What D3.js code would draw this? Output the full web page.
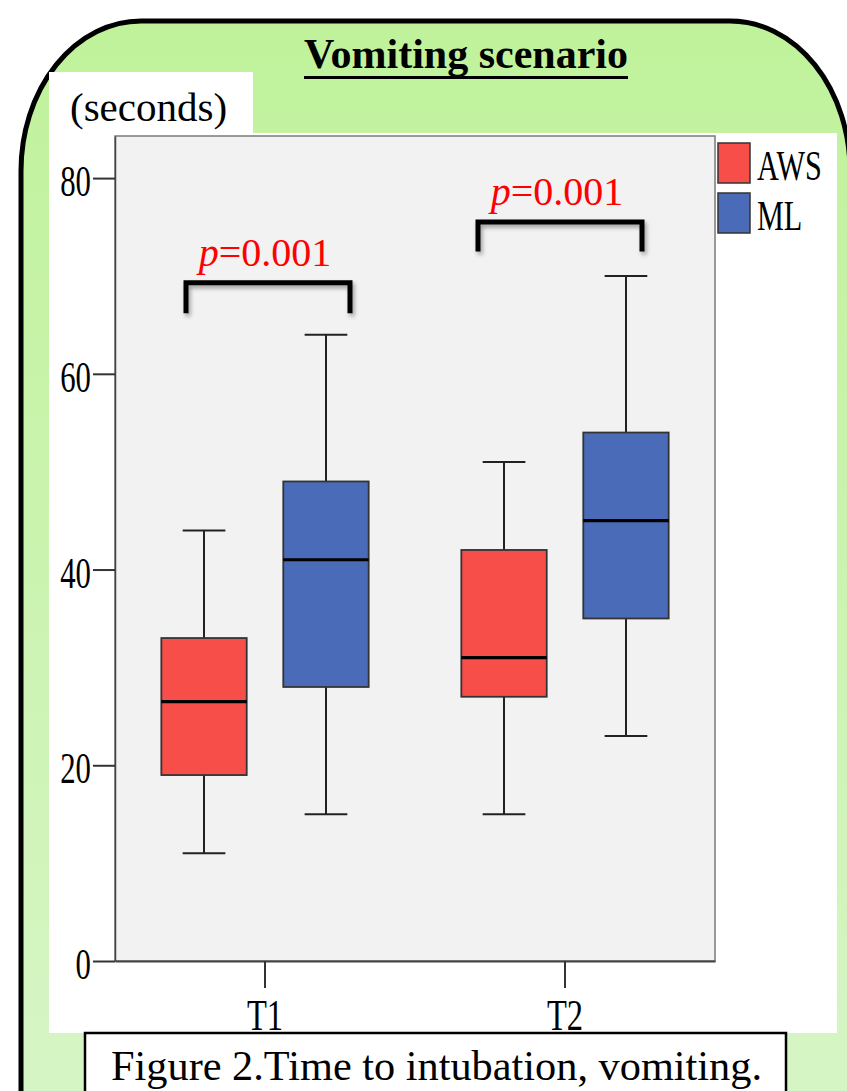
<!DOCTYPE html>
<html>
<head>
<meta charset="utf-8">
<script src="https://cdn.jsdelivr.net/npm/d3@7/dist/d3.min.js"></script>
<style>
  html, body { margin: 0; padding: 0; background: #ffffff; }
  svg { display: block; }
  text { font-family: "Liberation Serif", "Times New Roman", Times, Tinos, "DejaVu Serif", serif; }
</style>
</head>
<body>
<svg id="chart" width="847" height="1091"></svg>
<script>
// ---------- data ----------
const categories = ["T1", "T2"];
const groups = ["AWS", "ML"];
const groupColors = ["#f84e4a", "#4a6cb8"];
// five-number summaries [whiskerLow, Q1, median, Q3, whiskerHigh] (seconds)
const awsStats = [[11, 19, 26.5, 33, 44], [15, 27, 31, 42, 51]];
const mlStats  = [[15, 28, 41, 49, 64], [23, 35, 45, 54, 70]];
const yTicks = [0, 20, 40, 60, 80];
const pLabels = ["0.001", "0.001"];
const bracketTop = [69.3, 75.5];     // seconds
const bracketBottom = [66.2, 72.5];  // seconds
const titleText = "Vomiting scenario";
const unitText = "(seconds)";
const captionText = "Figure 2.Time to intubation,  vomiting.";

const SERIF = '"Liberation Serif", "Times New Roman", Times, Tinos, "DejaVu Serif", serif';

// ---------- setup ----------
const svg = d3.select("#chart");
const defs = svg.append("defs");
const grad = defs.append("linearGradient").attr("id", "bgGrad")
  .attr("x1", 0).attr("y1", 0).attr("x2", 0).attr("y2", 1);
grad.append("stop").attr("offset", "0%").attr("stop-color", "#c0f29b");
grad.append("stop").attr("offset", "100%").attr("stop-color", "#d6f5c5");
const shadow = defs.append("filter").attr("id", "shadow")
  .attr("x", "-20%").attr("y", "-40%").attr("width", "140%").attr("height", "180%");
shadow.append("feDropShadow").attr("dx", 2).attr("dy", 3)
  .attr("stdDeviation", 2.2).attr("flood-color", "#000").attr("flood-opacity", 0.35);

// outer rounded frame
svg.append("path")
  .attr("d", "M21,1110 L21,171 A120,150 0 0 1 141,21 L730,21 A120,150 0 0 1 850,171 L850,1110")
  .attr("fill", "url(#bgGrad)").attr("stroke", "#000").attr("stroke-width", 5);

// white panels
svg.append("rect").attr("x", 49).attr("y", 72).attr("width", 204).attr("height", 62).attr("fill", "#fff");
svg.append("rect").attr("x", 49).attr("y", 133).attr("width", 788).attr("height", 900).attr("fill", "#fff");

// title
const title = svg.append("text").attr("x", 466).attr("y", 68)
  .attr("text-anchor", "middle").attr("font-size", 42).attr("font-weight", "bold")
  .attr("font-family", SERIF)
  .attr("fill", "#000").text(titleText);
const tw = title.node().getComputedTextLength();
svg.append("line").attr("x1", 466 - tw / 2).attr("x2", 466 + tw / 2)
  .attr("y1", 77.5).attr("y2", 77.5).attr("stroke", "#000").attr("stroke-width", 3);

svg.append("text").attr("x", 70).attr("y", 121).attr("font-size", 41)
  .attr("font-family", SERIF)
  .attr("fill", "#000").text(unitText);

// scales
const x0 = d3.scaleBand().domain(categories).range([115, 715]);
const x1 = d3.scaleBand().domain(groups).range([0, x0.bandwidth()])
  .paddingInner(0.3).paddingOuter(0.38);
const y = d3.scaleLinear().domain([0, 84.3]).range([961, 136]);
const color = d3.scaleOrdinal().domain(groups).range(groupColors);

// plot background
svg.append("rect").attr("x", 115).attr("y", 136).attr("width", 600).attr("height", 825)
  .attr("fill", "#f2f2f2").attr("stroke", "#7a7a7a").attr("stroke-width", 1.5);

// y axis
const sx = 0.7;
const yAxis = svg.append("g").attr("transform", "translate(115,0)")
  .call(d3.axisLeft(y).tickValues(yTicks).tickSize(22).tickPadding(0).tickSizeOuter(0));
yAxis.select(".domain").attr("stroke", "#444").attr("stroke-width", 1.5);
yAxis.selectAll(".tick line").attr("stroke", "#333").attr("stroke-width", 2);
yAxis.selectAll(".tick text")
  .attr("font-family", SERIF)
  .attr("font-size", 44).attr("fill", "#000")
  .attr("x", -24 / sx).attr("dy", "0.4em")
  .attr("transform", `scale(${sx},1)`);

// x axis
const xAxis = svg.append("g").attr("transform", "translate(0,961)")
  .call(d3.axisBottom(x0).tickSize(27).tickSizeOuter(0));
xAxis.select(".domain").attr("stroke", "#444").attr("stroke-width", 2);
xAxis.selectAll(".tick line").attr("stroke", "#333").attr("stroke-width", 2);
xAxis.selectAll(".tick text")
  .attr("font-family", SERIF)
  .attr("font-size", 44).attr("fill", "#000")
  .attr("y", 69).attr("dy", 0)
  .attr("transform", `scale(0.74,1)`);

// boxes
const boxData = [];
categories.forEach((c, i) => {
  boxData.push({ cat: c, grp: "AWS", s: awsStats[i] });
  boxData.push({ cat: c, grp: "ML", s: mlStats[i] });
});
const bw = x1.bandwidth();
const boxes = svg.append("g").selectAll("g").data(boxData).join("g")
  .attr("transform", d => `translate(${x0(d.cat) + x1(d.grp)},0)`);
boxes.append("line").attr("x1", bw / 2).attr("x2", bw / 2)
  .attr("y1", d => y(d.s[0])).attr("y2", d => y(d.s[1]))
  .attr("stroke", "#222").attr("stroke-width", 2);
boxes.append("line").attr("x1", bw / 2).attr("x2", bw / 2)
  .attr("y1", d => y(d.s[3])).attr("y2", d => y(d.s[4]))
  .attr("stroke", "#222").attr("stroke-width", 2);
boxes.append("line").attr("x1", bw / 4).attr("x2", bw * 3 / 4)
  .attr("y1", d => y(d.s[0])).attr("y2", d => y(d.s[0]))
  .attr("stroke", "#222").attr("stroke-width", 2);
boxes.append("line").attr("x1", bw / 4).attr("x2", bw * 3 / 4)
  .attr("y1", d => y(d.s[4])).attr("y2", d => y(d.s[4]))
  .attr("stroke", "#222").attr("stroke-width", 2);
boxes.append("rect").attr("x", 0).attr("width", bw)
  .attr("y", d => y(d.s[3])).attr("height", d => y(d.s[1]) - y(d.s[3]))
  .attr("fill", d => color(d.grp)).attr("stroke", "#333").attr("stroke-width", 1.8);
boxes.append("line").attr("x1", 0).attr("x2", bw)
  .attr("y1", d => y(d.s[2])).attr("y2", d => y(d.s[2]))
  .attr("stroke", "#000").attr("stroke-width", 3.2);

// brackets + p values
const half = 82;
categories.forEach((c, i) => {
  const cx = x0(c) + x0.bandwidth() / 2 + (i === 0 ? 3 : -5);
  const yt = y(bracketTop[i]), yb = y(bracketBottom[i]);
  svg.append("path")
    .attr("d", `M${cx - half},${yb} L${cx - half},${yt} L${cx + half},${yt} L${cx + half},${yb}`)
    .attr("fill", "none").attr("stroke", "#000").attr("stroke-width", 5)
    .attr("filter", "url(#shadow)");
  const t = svg.append("text").attr("x", cx - 3).attr("y", yt - 17)
    .attr("text-anchor", "middle").attr("font-size", 40).attr("fill", "#ff0000")
    .attr("font-family", SERIF);
  t.append("tspan").attr("font-style", "italic").text("p");
  t.append("tspan").text("=" + pLabels[i]);
});

// legend
const legend = svg.append("g").selectAll("g").data(groups).join("g")
  .attr("transform", (d, i) => `translate(718,${143 + i * 50})`);
legend.append("rect").attr("width", 32).attr("height", 40)
  .attr("fill", d => color(d)).attr("stroke", "#333").attr("stroke-width", 1.5);
legend.append("text").attr("x", 39 / 0.72).attr("y", 37)
  .attr("transform", "scale(0.72,1)")
  .attr("font-family", SERIF)
  .attr("font-size", 42).attr("fill", "#000").text(d => d);

// caption
svg.append("rect").attr("x", 85).attr("y", 1033).attr("width", 701).attr("height", 70)
  .attr("fill", "#fff").attr("stroke", "#000").attr("stroke-width", 2.5);
svg.append("text").attr("x", 111).attr("y", 1080).attr("font-size", 43)
  .attr("font-family", SERIF)
  .attr("textLength", 651).attr("lengthAdjust", "spacingAndGlyphs")
  .attr("fill", "#000").text(captionText);
</script>
</body>
</html>
